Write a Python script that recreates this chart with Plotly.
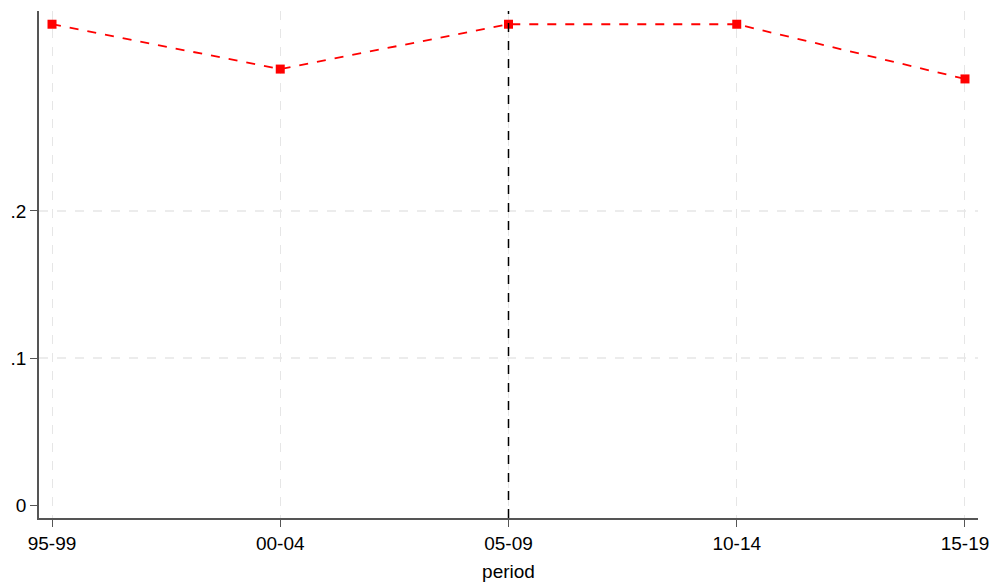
import plotly.graph_objects as go

periods = ["95-99", "00-04", "05-09", "10-14", "15-19"]
values = [0.327, 0.2965, 0.327, 0.327, 0.2898]
y_ticks = [0, 0.1, 0.2]
y_tick_labels = ["0", ".1", ".2"]
grid_y = [0.1, 0.2]
event_period = "05-09"

x_idx = list(range(len(periods)))

fig = go.Figure()
fig.add_trace(go.Scatter(
    x=x_idx, y=values, mode="lines+markers",
    line=dict(color="#ff0000", width=1.8, dash="dash"),
    marker=dict(symbol="square", size=9, color="#ff0000"),
    showlegend=False, hoverinfo="skip", cliponaxis=False,
))

shapes = []
for g in grid_y:
    shapes.append(dict(type="line", xref="paper", yref="y", x0=0, x1=1, y0=g, y1=g,
                       line=dict(color="#e6e6e6", width=1.3, dash="dash"), layer="below"))
shapes.append(dict(type="line", xref="x", yref="paper", x0=periods.index(event_period),
                   x1=periods.index(event_period), y0=0, y1=1,
                   line=dict(color="#000000", width=1.5, dash="dash")))

fig.update_layout(
    width=993, height=583,
    margin=dict(l=39, r=15, t=11, b=65),
    paper_bgcolor="white", plot_bgcolor="white",
    font=dict(family="Liberation Sans, Arial, sans-serif", size=19, color="#000000"),
    shapes=shapes,
    xaxis=dict(
        range=[-0.057, 4.057], tickvals=x_idx, ticktext=periods,
        showgrid=True, gridcolor="#e6e6e6", griddash="dash", gridwidth=1.3,
        showline=True, linecolor="#555555", linewidth=1.5,
        ticks="outside", ticklen=7, tickcolor="#555555", tickwidth=1.3,
        zeroline=False, automargin=False,
        title=dict(text="period", standoff=12, font=dict(size=19)),
    ),
    yaxis=dict(
        range=[-0.0088, 0.336], tickvals=y_ticks, ticktext=y_tick_labels,
        showgrid=False, zeroline=False, automargin=False,
        showline=True, linecolor="#555555", linewidth=1.5,
        ticks="outside", ticklen=7, tickcolor="#555555", tickwidth=1.3,
    ),
)

fig.write_html("out.html", config={"displayModeBar": False},
               post_script="document.body.style.margin='0';document.body.style.overflow='hidden';")
